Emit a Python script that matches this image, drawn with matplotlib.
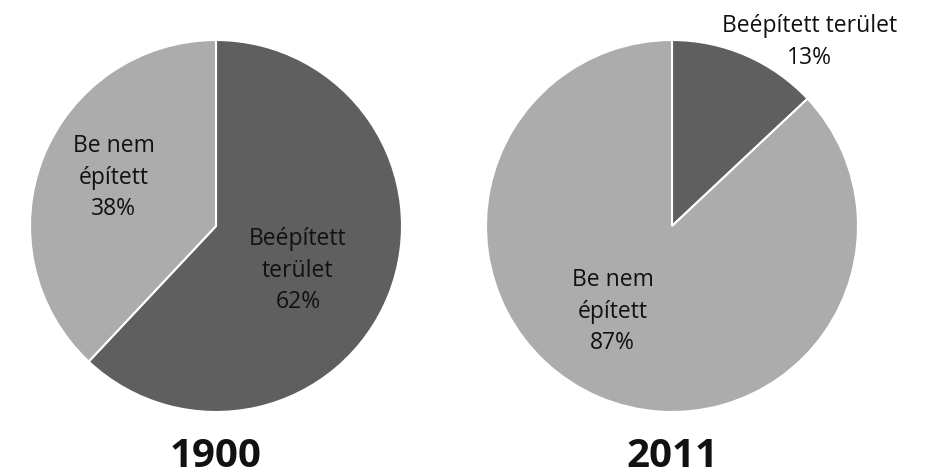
import matplotlib.pyplot as plt

plt.rcParams['font.family'] = ['Open Sans', 'DejaVu Sans']

# data
years = ['1900', '2011']
built = [62, 13]       # Beépített terület (%)
unbuilt = [38, 87]     # Be nem épített (%)
colors = ['#5f5f5f', '#acacac']

fig = plt.figure(figsize=(9.3, 4.76), dpi=100)

W, H = 930, 476
R = 186
centers = [(216, 226), (672, 226)]

# label positions in data units (pie radius = 1)
built_pos = [(0.44, -0.24), (0.74, 0.99)]
unbuilt_pos = [(-0.55, 0.26), (-0.32, -0.46)]
built_fmt = ['Beépített\nterület\n{}%', 'Beépített terület\n{}%']
unbuilt_fmt = ['Be nem\népített\n{}%', 'Be nem\népített\n{}%']

for i, yr in enumerate(years):
    cx, cy = centers[i]
    ax = fig.add_axes([(cx - R) / W, (H - cy - R) / H, 2 * R / W, 2 * R / H])
    ax.pie([built[i], unbuilt[i]], colors=colors, startangle=90, counterclock=False,
           radius=1, wedgeprops=dict(edgecolor='white', linewidth=1.5))
    ax.set_xlim(-1, 1)
    ax.set_ylim(-1, 1)
    ax.set_aspect('equal')
    ax.axis('off')

    bx, by = built_pos[i]
    ax.text(bx, by, built_fmt[i].format(built[i]), ha='center', va='center',
            fontsize=16.5, color='#111111', linespacing=1.42, clip_on=False)
    ux, uy = unbuilt_pos[i]
    ax.text(ux, uy, unbuilt_fmt[i].format(unbuilt[i]), ha='center', va='center',
            fontsize=16.5, color='#111111', linespacing=1.42, clip_on=False)

    ax.text(0, -1.24, yr, ha='center', va='center', fontsize=29, fontweight='bold',
            color='#111111', clip_on=False)

fig.savefig('out.png', dpi=100, facecolor='white')
